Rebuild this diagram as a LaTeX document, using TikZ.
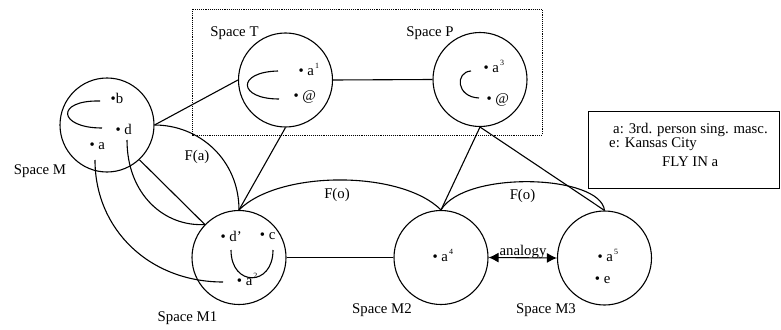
\documentclass[tikz,border=0pt]{standalone}
\usepackage{fontspec}
\setmainfont{Liberation Serif}
\usetikzlibrary{arrows.meta}
\newcommand\mysup[1]{\kern1pt\raisebox{7pt}{\fontsize{8}{8}\selectfont #1}}
\begin{document}
\begin{tikzpicture}[x=1pt,y=-1pt,
  every node/.style={font=\fontsize{14.8}{17}\selectfont, inner sep=0pt},
  space/.style={circle, draw, line width=1.1pt, minimum size=94pt},
  conn/.style={line width=1.1pt},
  pt/.style={anchor=base west},
  lbl/.style={anchor=base},
  arr/.style={conn, {Latex[length=10pt,width=10pt]}-{Latex[length=10pt,width=10pt]}}]
\useasboundingbox (0,0) rectangle (781,329);
% frames
\draw[densely dotted, line width=0.9pt] (192,9) rectangle (542,135);
\node[draw, line width=1pt, minimum width=191pt, minimum height=77pt] (legend) at (683.5,149.5) {};
% spaces
\node[space] (M) at (107,125) {};
\node[space] (T) at (285.5,80) {};
\node[space] (P) at (480,79.5) {};
\node[space] (M1) at (239,257.5) {};
\node[space] (M2) at (441,257.5) {};
\node[space] (M3) at (604.5,258) {};
% free ends
\coordinate (dstart) at (127,140);
\coordinate (astart) at (95,160);
\coordinate (aend) at (223,282);
% inner elements
\node[pt] (tb) at (110.4,103) {•b};
\node[pt] (td) at (115.4,134) {• d};
\node[pt] (ta) at (89.4,149) {• a};
\node[pt] (ta1) at (298.4,75.3) {• a\mysup{1}};
\node[pt] (tat1) at (293.4,100.5) {• @};
\node[pt] (ta3) at (483.4,72.7) {• a\mysup{3}};
\node[pt] (tat3) at (486.4,103) {• @};
\node[pt] (tdp) at (220.4,241.7) {• d’};
\node[pt] (tc) at (259.7,239.3) {• c};
\node[pt] (ta2) at (236.7,285) {• a\mysup{2}};
\node[pt] (ta4) at (432.4,261) {• a\mysup{4}};
\node[pt] (ta5) at (597.4,261) {• a\mysup{5}};
\node[pt] (te) at (594.7,283.3) {• e};
\draw[conn] (100,101) .. controls (55,100) and (58,128) .. (102,128);
\draw[conn] (278,71) .. controls (236,72) and (238,99) .. (279,99);
\draw[conn] (471,71) .. controls (455,72) and (456,97) .. (479,98);
\draw[conn] (231,250) .. controls (231,287) and (273,287) .. (273,250);
% labels
\node[lbl] (lM) at (40,174.8) {Space M};
\node[lbl] (lT) at (234.5,36.8) {Space T};
\node[lbl] (lP) at (430,36.8) {Space P};
\node[lbl] (lM1) at (187.5,321.8) {Space M1};
\node[lbl] (lM2) at (382,313.8) {Space M2};
\node[lbl] (lM3) at (546,313.8) {Space M3};
\node[lbl] (fa) at (197,160) {F(a)};
\node[lbl] (fo1) at (337,198) {F(o)};
\node[lbl] (fo2) at (522.5,199) {F(o)};
\node[lbl] (an) at (523,255.5) {analogy};
% legend text
\node[pt] (lg1) at (613,133) {a: 3rd. person sing. masc.};
\node[pt] (lg2) at (609,147) {e: Kansas City};
\node[pt] (lg3) at (662,166) {FLY IN a};
% connectors
\draw[conn] (M.east) -- (T.west);
\draw[conn] (T.east) -- (P.west);
\draw[conn] (T.south) -- (M1.north);
\draw[conn] (P.south) -- (M2.north);
\draw[conn] (P.south) -- (M3.north);
\draw[conn] (M1.east) -- (M2.west);
\draw[conn] (M.east) .. controls +(45,0) and +(0,-50) .. (M1.north);
\draw[conn] (M1.north) .. controls +(40,-40) and +(-40,-40) .. (M2.north);
\draw[conn] (M2.north) .. controls +(24,-40) and +(-4,-36) .. (M3.north);
\draw[conn] (M.-47) -- (M1.136);
\draw[conn] (dstart) .. controls (127,195) and (165,227) .. (M1.136);
\draw[conn] (astart) .. controls (95,230) and (150,282) .. (aend);
\draw[arr] (M2.east) -- (M3.west);
\end{tikzpicture}
\end{document}
